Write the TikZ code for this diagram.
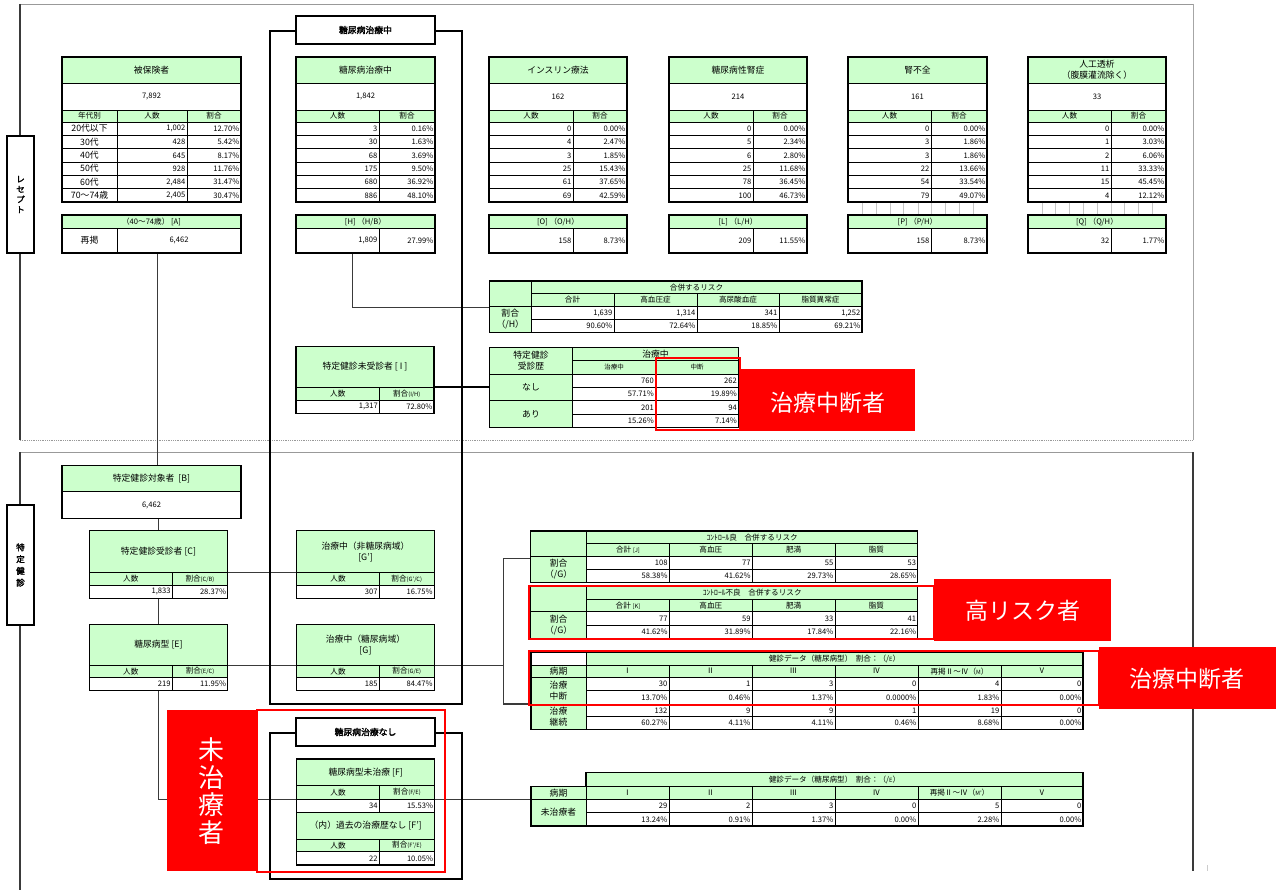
\documentclass[tikz,border=0pt]{standalone}
\usepackage{fontspec}
\setmainfont{Noto Sans CJK JP}
\newfontfamily\bfjp{Noto Sans CJK JP}[FakeBold=2.5]
\definecolor{gfill}{HTML}{CCFFCC}
\definecolor{rd}{HTML}{FF0000}
\definecolor{ln}{HTML}{3A3A3A}
\tikzset{
 gcell/.style={draw=black,fill=gfill,line width=0.7pt},
 wcell/.style={draw=black,fill=white,line width=0.7pt},
 tx/.style={font=\fontsize{7.6}{9}\selectfont,inner sep=0pt,align=center},
 sm/.style={font=\fontsize{6.5}{7.5}\selectfont,inner sep=0pt,align=center},
 ttl/.style={font=\fontsize{8.8}{11}\selectfont,inner sep=0pt,align=center},
 conn/.style={draw=ln,line width=0.9pt},
 outer/.style={draw=black,line width=1.3pt},
 framebox/.style={draw=black,line width=1.5pt},
 redbox/.style={draw=rd,line width=2pt},
 redtxt/.style={text=white,font=\fontsize{23}{26}\selectfont,inner sep=0pt,align=center},
}
\newcommand\mkcs[7]{\path[#5] (#1,#2) rectangle (#3,#4); \node[#7] at ({(#1+#3)/2},{(#2+#4)/2}) {#6};}
\newcommand\mkcc[6]{\mkcs{#1}{#2}{#3}{#4}{#5}{#6}{tx}}
\newcommand\mkcr[6]{\path[#5] (#1,#2) rectangle (#3,#4); \node[tx,anchor=east] at ({#3-1.5},{(#2+#4)/2}) {#6};}
\newcommand\smal[1]{{\fontsize{5.8}{6.5}\selectfont #1}}
% top table with two columns
\newcommand\toptab[6]{%
 \mkcs{#1}{57}{#3}{83}{gcell}{#4}{ttl}
 \mkcc{#1}{83}{#3}{110}{wcell}{#5}
 \mkcc{#1}{110}{#2}{122}{gcell}{人数}
 \mkcc{#2}{110}{#3}{122}{gcell}{割合}
 \foreach \n/\p [count=\i] in {#6} {
   \pgfmathsetmacro\ya{122+(\i-1)*13.333}
   \pgfmathsetmacro\yb{122+\i*13.333}
   \mkcr{#1}{\ya}{#2}{\yb}{wcell}{\n}
   \mkcr{#2}{\ya}{#3}{\yb}{wcell}{\p}
 }
 \draw[outer] (#1,57) rectangle (#3,202);
}
% ratio box below top tables
\newcommand\ratiobox[6]{%
 \mkcc{#1}{215}{#3}{228}{gcell}{#4}
 \mkcr{#1}{228}{#2}{253}{wcell}{#5}
 \mkcr{#2}{228}{#3}{253}{wcell}{#6}
 \draw[outer] (#1,215) rectangle (#3,253);
}
% box with header and sub header (bottom part)
\newcommand\subbox[9]{%
 \mkcs{#1}{#4}{#3}{#5}{gcell}{#8}{ttl}
 \mkcc{#1}{#5}{#2}{#6}{gcell}{人数}
 \mkcc{#2}{#5}{#3}{#6}{gcell}{#9}
}
\begin{document}
\begin{tikzpicture}[x=1pt,y=-1pt]
\useasboundingbox (0,0) rectangle (1282,890);
\fill[white] (0,0) rectangle (1282,890);

% ---------- section frames ----------
\draw[gray!80,line width=0.8pt] (20,4) -- (1193,4);
\draw[ln,line width=1.2pt] (20,4) -- (20,440);
\draw[gray!70,line width=0.8pt] (1193,4) -- (1193,440);
\draw[gray!80,line width=0.8pt,densely dotted] (20,440) -- (1193,440);
\draw[gray!80,line width=0.8pt] (20,452) -- (1193,452);
\draw[ln,line width=1.4pt] (20,452) -- (20,890);
\draw[ln,line width=1.4pt] (1193,452) -- (1193,871);
\draw[gray!40,line width=1pt] (1207,865) -- (1207,871);

\node[draw=black,line width=1.2pt,fill=white,minimum width=27pt,minimum height=117pt,inner sep=0pt,
  font=\fontsize{8.5}{10.2}\bfjp,align=center] (rez) at (20.5,194.5) {レ\\セ\\プ\\ト};
\node[draw=black,line width=1.2pt,fill=white,minimum width=27pt,minimum height=120pt,inner sep=0pt,
  font=\fontsize{8.5}{11.8}\bfjp,align=center] (tok) at (20.5,565) {特\\定\\健\\診};

% ---------- connectors ----------
\coordinate (Abot) at (157,253); \coordinate (Btop) at (157,466);
\coordinate (Bbot) at (158,518); \coordinate (Ctop) at (158,531);
\coordinate (Cbot) at (158,598); \coordinate (Etop) at (158,624);
\coordinate (Ebot) at (158,691); \coordinate (Mleft) at (531,799);
\coordinate (Cr) at (228,572); \coordinate (Gpl) at (296,572);
\coordinate (Er) at (228,665); \coordinate (Gl) at (296,665);
\coordinate (Gr) at (435,665); \coordinate (Jn) at (503,665);
\coordinate (Jt) at (503,558); \coordinate (Jtab) at (531,558);
\coordinate (Jb) at (503,704); \coordinate (Dtab) at (531,704);
\coordinate (Hbot) at (352,253); \coordinate (Rleft) at (489.5,307);
\coordinate (Ir) at (434,387); \coordinate (Kleft) at (489.5,387);
\draw[conn] (Abot) -- (Btop);
\draw[conn] (Bbot) -- (Ctop);
\draw[conn] (Cbot) -- (Etop);
\draw[conn] (Ebot) |- (Mleft);
\draw[conn] (Cr) -- (Gpl);
\draw[conn] (Er) -- (Gl);
\draw[conn] (Gr) -- (Jn);
\draw[conn] (Jtab) -- (Jt) -- (Jb);
\draw[conn,line width=1.5pt] (Jb) -- (Dtab);
\draw[conn] (Hbot) |- (Rleft);
\draw[conn,line width=1.8pt,draw=black] (Ir) -- (Kleft);

% ---------- group frames ----------
\draw[framebox] (270,31) rectangle (462,704);
\node[draw=black,line width=1.2pt,fill=white,minimum width=139pt,minimum height=28pt,inner sep=0pt,
  font=\fontsize{8.8}{10}\bfjp] (hdr1) at (365.5,30) {糖尿病治療中};
\draw[framebox] (270,733) rectangle (462,879);
\node[draw=black,line width=1.2pt,fill=white,minimum width=139pt,minimum height=28pt,inner sep=0pt,
  font=\fontsize{8.8}{10}\bfjp] (hdr2) at (365.5,732) {糖尿病治療なし};

% ---------- 被保険者 ----------
\mkcs{62}{57}{241}{83}{gcell}{被保険者}{ttl}
\mkcc{62}{83}{241}{110}{wcell}{7,892}
\mkcc{62}{110}{117}{122}{gcell}{年代別}
\mkcc{117}{110}{187}{122}{gcell}{人数}
\mkcc{187}{110}{241}{122}{gcell}{割合}
\foreach \a/\n/\p [count=\i] in {20代以下/{1,002}/12.70\%,30代/428/5.42\%,40代/645/8.17\%,50代/928/11.76\%,60代/{2,484}/31.47\%,70～74歳/{2,405}/30.47\%} {
  \pgfmathsetmacro\ya{122+(\i-1)*13.333}
  \pgfmathsetmacro\yb{122+\i*13.333}
  \mkcs{62}{\ya}{117}{\yb}{wcell}{\a}{ttl}
  \mkcr{117}{\ya}{187}{\yb}{wcell}{\n}
  \mkcr{187}{\ya}{241}{\yb}{wcell}{\p}
}
\draw[outer] (62,57) rectangle (241,202);
\mkcc{62}{215}{241}{228}{gcell}{（40～74歳） [A]}
\mkcs{62}{228}{117}{253}{wcell}{再掲}{ttl}
\mkcc{117}{228}{241}{253}{wcell}{6,462}
\draw[outer] (62,215) rectangle (241,253);

% ---------- other top tables ----------
\toptab{296}{379}{435}{糖尿病治療中}{1,842}{3/0.16\%,30/1.63\%,68/3.69\%,175/9.50\%,680/36.92\%,886/48.10\%}
\ratiobox{296}{379}{435}{[H] （H/B）}{1,809}{27.99\%}
\toptab{489}{573}{627}{インスリン療法}{162}{0/0.00\%,4/2.47\%,3/1.85\%,25/15.43\%,61/37.65\%,69/42.59\%}
\ratiobox{489}{573}{627}{[O] （O/H）}{158}{8.73\%}
\toptab{669}{753}{807}{糖尿病性腎症}{214}{0/0.00\%,5/2.34\%,6/2.80\%,25/11.68\%,78/36.45\%,100/46.73\%}
\ratiobox{669}{753}{807}{[L] （L/H）}{209}{11.55\%}
\toptab{848}{931}{987}{腎不全}{161}{0/0.00\%,3/1.86\%,3/1.86\%,22/13.66\%,54/33.54\%,79/49.07\%}
\ratiobox{848}{931}{987}{[P] （P/H）}{158}{8.73\%}
\toptab{1028}{1111}{1166}{人工透析\\（腹膜灌流除く）}{33}{0/0.00\%,1/3.03\%,2/6.06\%,11/33.33\%,15/45.45\%,4/12.12\%}
\ratiobox{1028}{1111}{1166}{[Q] （Q/H）}{32}{1.77\%}
\foreach \x in {862,876,890,903,918,931,945,959,973,1042,1055,1069,1083,1097,1111,1124,1138,1152}
  \draw[gray!45,line width=0.6pt] (\x,203) -- (\x,214);

% ---------- 合併するリスク ----------
\mkcc{489.5}{281}{531}{306.5}{gcell}{}
\mkcc{531}{281}{862}{293.5}{gcell}{合併するリスク}
\mkcc{531}{293.5}{614}{306.5}{gcell}{合計}
\mkcc{614}{293.5}{697}{306.5}{gcell}{高血圧症}
\mkcc{697}{293.5}{779}{306.5}{gcell}{高尿酸血症}
\mkcc{779}{293.5}{862}{306.5}{gcell}{脂質異常症}
\mkcs{489.5}{306.5}{531}{332.5}{gcell}{割合\\（/H）}{ttl}
\mkcr{531}{306.5}{614}{319.5}{wcell}{1,639}
\mkcr{614}{306.5}{697}{319.5}{wcell}{1,314}
\mkcr{697}{306.5}{779}{319.5}{wcell}{341}
\mkcr{779}{306.5}{862}{319.5}{wcell}{1,252}
\mkcr{531}{319.5}{614}{332.5}{wcell}{90.60\%}
\mkcr{614}{319.5}{697}{332.5}{wcell}{72.64\%}
\mkcr{697}{319.5}{779}{332.5}{wcell}{18.85\%}
\mkcr{779}{319.5}{862}{332.5}{wcell}{69.21\%}
\draw[outer] (489.5,281) rectangle (862,332.5);

% ---------- 特定健診未受診者 [I] ----------
\subbox{296}{379.5}{434}{346.7}{387.3}{400}{}{特定健診未受診者 [ I ]}{割合\smal{(I/H)}}
\mkcr{296}{400}{379.5}{413.3}{wcell}{1,317}
\mkcr{379.5}{400}{434}{413.3}{wcell}{72.80\%}
\draw[outer] (296,346.7) rectangle (434,413.3);

% ---------- 特定健診受診歴 x 治療中 ----------
\mkcs{489.5}{347.3}{572.5}{374}{gcell}{特定健診\\受診歴}{ttl}
\mkcs{572.5}{347.3}{738.5}{360.7}{gcell}{治療中}{ttl}
\mkcs{572.5}{360.7}{655.5}{374}{gcell}{治療中}{sm}
\mkcs{655.5}{360.7}{738.5}{374}{gcell}{中断}{sm}
\mkcs{489.5}{374}{572.5}{400.7}{gcell}{なし}{ttl}
\mkcs{489.5}{400.7}{572.5}{427.3}{gcell}{あり}{ttl}
\mkcr{572.5}{374}{655.5}{387.3}{wcell}{760}
\mkcr{655.5}{374}{738.5}{387.3}{wcell}{262}
\mkcr{572.5}{387.3}{655.5}{400.7}{wcell}{57.71\%}
\mkcr{655.5}{387.3}{738.5}{400.7}{wcell}{19.89\%}
\mkcr{572.5}{400.7}{655.5}{414}{wcell}{201}
\mkcr{655.5}{400.7}{738.5}{414}{wcell}{94}
\mkcr{572.5}{414}{655.5}{427.3}{wcell}{15.26\%}
\mkcr{655.5}{414}{738.5}{427.3}{wcell}{7.14\%}
\draw[outer] (489.5,347.3) rectangle (738.5,427.3);
\draw[redbox] (655.5,358) rectangle (740,430);
\fill[rd] (740,369) rectangle (915,431);
\node[redtxt] (lab1) at (827.5,403) {治療中断者};

% ---------- 特定健診対象者 [B] ----------
\mkcs{62}{465.7}{241}{491.7}{gcell}{特定健診対象者\ \ [B]}{ttl}
\mkcc{62}{491.7}{241}{518.3}{wcell}{6,462}
\draw[outer] (62,465.7) rectangle (241,518.3);

% ---------- [C] ----------
\subbox{89.3}{172.3}{227.7}{530.7}{572.3}{585}{}{特定健診受診者 [C]}{割合\smal{(C/B)}}
\mkcr{89.3}{585}{172.3}{598.3}{wcell}{1,833}
\mkcr{172.3}{585}{227.7}{598.3}{wcell}{28.37\%}
\draw[outer] (89.3,530.7) rectangle (227.7,598.3);
% ---------- [E] ----------
\subbox{89.3}{172.3}{227.7}{624.3}{665}{677.7}{}{糖尿病型 [E]}{割合\smal{(E/C)}}
\mkcr{89.3}{677.7}{172.3}{690.7}{wcell}{219}
\mkcr{172.3}{677.7}{227.7}{690.7}{wcell}{11.95\%}
\draw[outer] (89.3,624.3) rectangle (227.7,690.7);
% ---------- [G'] ----------
\subbox{296.7}{379.3}{434.3}{530.7}{572.3}{585}{}{治療中（非糖尿病域）\\{}[G']}{割合\smal{(G'/C)}}
\mkcr{296.7}{585}{379.3}{598.3}{wcell}{307}
\mkcr{379.3}{585}{434.3}{598.3}{wcell}{16.75\%}
\draw[outer] (296.7,530.7) rectangle (434.3,598.3);
% ---------- [G] ----------
\subbox{296.7}{379.3}{434.3}{624.3}{665}{677.7}{}{治療中（糖尿病域）\\{}[G]}{割合\smal{(G/E)}}
\mkcr{296.7}{677.7}{379.3}{690.7}{wcell}{185}
\mkcr{379.3}{677.7}{434.3}{690.7}{wcell}{84.47\%}
\draw[outer] (296.7,624.3) rectangle (434.3,690.7);

% ---------- [F] and [F'] ----------
\subbox{296.7}{379.3}{434.7}{759}{785.7}{799}{}{糖尿病型未治療 [F]}{割合\smal{(F/E)}}
\mkcr{296.7}{799}{379.3}{812.3}{wcell}{34}
\mkcr{379.3}{799}{434.7}{812.3}{wcell}{15.53\%}
\subbox{296.7}{379.3}{434.7}{812.3}{839}{851.7}{}{（内）過去の治療歴なし [F']}{割合\smal{(F'/E)}}
\mkcr{296.7}{851.7}{379.3}{865}{wcell}{22}
\mkcr{379.3}{851.7}{434.7}{865}{wcell}{10.05\%}
\draw[outer] (296.7,759) rectangle (434.7,865);

% ---------- コントロール良 / 不良 ----------
\foreach \yt/\lab/\tot/\va/\vb/\vc/\vd/\pa/\pb/\pc/\pd in
 {531/ｺﾝﾄﾛｰﾙ良　合併するリスク/合計 \smal{[J]}/108/77/55/53/58.38\%/41.62\%/29.73\%/28.65\%,
  586.7/ｺﾝﾄﾛｰﾙ不良　合併するリスク/合計 \smal{[K]}/77/59/33/41/41.62\%/31.89\%/17.84\%/22.16\%} {
  \pgfmathsetmacro\yh{\yt+12.3}
  \pgfmathsetmacro\ys{\yt+25}
  \pgfmathsetmacro\yr{\yt+38.7}
  \pgfmathsetmacro\ye{\yt+51.5}
  \mkcc{530.7}{\yt}{586.7}{\ys}{gcell}{}
  \mkcc{586.7}{\yt}{917.7}{\yh}{gcell}{\lab}
  \mkcc{586.7}{\yh}{669.3}{\ys}{gcell}{\tot}
  \mkcc{669.3}{\yh}{752.3}{\ys}{gcell}{高血圧}
  \mkcc{752.3}{\yh}{835}{\ys}{gcell}{肥満}
  \mkcc{835}{\yh}{917.7}{\ys}{gcell}{脂質}
  \mkcs{530.7}{\ys}{586.7}{\ye}{gcell}{割合\\（/G）}{ttl}
  \mkcr{586.7}{\ys}{669.3}{\yr}{wcell}{\va}
  \mkcr{669.3}{\ys}{752.3}{\yr}{wcell}{\vb}
  \mkcr{752.3}{\ys}{835}{\yr}{wcell}{\vc}
  \mkcr{835}{\ys}{917.7}{\yr}{wcell}{\vd}
  \mkcr{586.7}{\yr}{669.3}{\ye}{wcell}{\pa}
  \mkcr{669.3}{\yr}{752.3}{\ye}{wcell}{\pb}
  \mkcr{752.3}{\yr}{835}{\ye}{wcell}{\pc}
  \mkcr{835}{\yr}{917.7}{\ye}{wcell}{\pd}
  \draw[outer] (530.7,\yt) rectangle (917.7,\ye);
}
\draw[redbox] (529,585.5) rectangle (934,638.5);
\fill[rd] (934,579) rectangle (1111,641);
\node[redtxt] (lab2) at (1022.5,611) {高リスク者};

% ---------- 健診データ (治療中断 / 継続) ----------
\mkcc{531}{652.7}{586}{665}{wcell}{}
\mkcc{586}{652.7}{1083}{665}{gcell}{健診データ（糖尿病型）\ \ 割合：（/\smal{E}）}
\mkcs{531}{665}{586}{677.3}{gcell}{病期}{ttl}
\foreach \xa/\xb/\h in {586/669/Ⅰ,669/752/Ⅱ,752/835/Ⅲ,835/918/Ⅳ,918/1001/再掲Ⅱ～Ⅳ（\smal{M}）,1001/1083/Ⅴ}
  \mkcc{\xa}{665}{\xb}{677.3}{gcell}{\h};
\mkcs{531}{677.3}{586}{704}{gcell}{治療\\中断}{ttl}
\mkcs{531}{704}{586}{729.3}{gcell}{治療\\継続}{ttl}
\foreach \xa/\xb/\va/\pa/\vb/\pb in {586/669/30/13.70\%/132/60.27\%,669/752/1/0.46\%/9/4.11\%,752/835/3/1.37\%/9/4.11\%,835/918/0/0.0000\%/1/0.46\%,918/1001/4/1.83\%/19/8.68\%,1001/1083/0/0.00\%/0/0.00\%} {
  \mkcr{\xa}{677.3}{\xb}{690.7}{wcell}{\va}
  \mkcr{\xa}{690.7}{\xb}{704}{wcell}{\pa}
  \mkcr{\xa}{704}{\xb}{716.7}{wcell}{\vb}
  \mkcr{\xa}{716.7}{\xb}{729.3}{wcell}{\pb}
}
\draw[outer] (531,652.7) rectangle (1083,729.3);
\draw[redbox] (529,651) rectangle (1099,705);
\fill[rd] (1099,647.3) rectangle (1275.7,709.3);
\node[redtxt] (lab3) at (1187.3,679) {治療中断者};

% ---------- 健診データ (未治療者) ----------
\mkcc{586}{772.7}{1083}{786.7}{gcell}{健診データ（糖尿病型）\ \ 割合：（/\smal{E}）}
\mkcs{531}{786.7}{586}{799.3}{gcell}{病期}{ttl}
\foreach \xa/\xb/\h in {586/669/Ⅰ,669/752/Ⅱ,752/835/Ⅲ,835/918/Ⅳ,918/1001/再掲Ⅱ～Ⅳ（\smal{M'}）,1001/1083/Ⅴ}
  \mkcc{\xa}{786.7}{\xb}{799.3}{gcell}{\h};
\mkcs{531}{799.3}{586}{826}{gcell}{未治療者}{ttl}
\foreach \xa/\xb/\va/\pa in {586/669/29/13.24\%,669/752/2/0.91\%,752/835/3/1.37\%,835/918/0/0.00\%,918/1001/5/2.28\%,1001/1083/0/0.00\%} {
  \mkcr{\xa}{799.3}{\xb}{812.7}{wcell}{\va}
  \mkcr{\xa}{812.7}{\xb}{826}{wcell}{\pa}
}
\draw[outer] (586,772.7) -- (1083,772.7) -- (1083,826) -- (531,826) -- (531,786.7) -- (586,786.7) -- cycle;

% ---------- 未治療者 label ----------
\draw[redbox] (256.7,710) rectangle (445,872.3);
\fill[rd] (166.7,710) rectangle (256.7,870.7);
\node[text=white,font=\fontsize{26}{27.5}\selectfont,inner sep=0pt,align=center] (lab4) at (211.7,791) {未\\治\\療\\者};
\end{tikzpicture}
\end{document}
